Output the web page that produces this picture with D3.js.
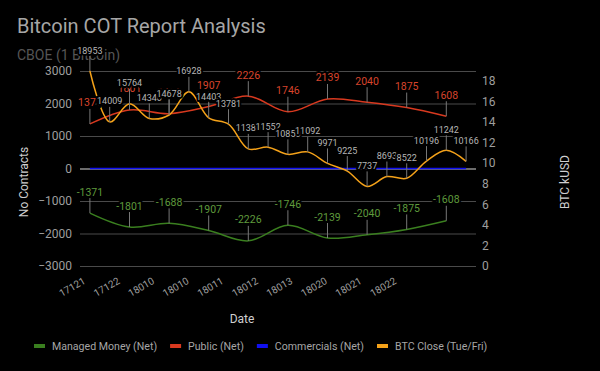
<!DOCTYPE html>
<html>
<head>
<meta charset="utf-8">
<script src="https://cdn.jsdelivr.net/npm/d3@7/dist/d3.min.js"></script>
<style>
  html, body { margin: 0; padding: 0; background: #000; }
  svg { display: block; font-family: Roboto, "Noto Sans", sans-serif; }
</style>
</head>
<body>
<svg id="chart" width="600" height="371"></svg>
<script>
// ---------- data ----------
const dates = ["171219","171222","171226","171229","180102","180105","180109","180112","180116","180119",
               "180123","180126","180130","180202","180206","180209","180213","180216","180220","180223"];
const btcClose = [18953,14009,15764,14340,14678,16928,14403,13781,11380,11552,
                  10850,11092,9971,9225,7737,8693,8522,10196,11242,10166];
const reportDates = ["171219","171226","180102","180109","180116","180123","180130","180206","180213","180220"];
const managedMoney = [-1371,-1801,-1688,-1907,-2226,-1746,-2139,-2040,-1875,-1608];
const publicNet = [1371,1801,1688,1907,2226,1746,2139,2040,1875,1608];
const commercials = [0,0,0,0,0,0,0,0,0,0,0,0,0,0,0,0,0,0,0,0];
const xTickLabels = ["17121","17122","18010","18010","18011","18012","18013","18020","18021","18022"];
const leftTicks = [-3000,-2000,-1000,0,1000,2000,3000];
const rightTicks = [0,2,4,6,8,10,12,14,16,18];
const seriesNames = ["Managed Money (Net)","Public (Net)","Commercials (Net)","BTC Close (Tue/Fri)"];
const seriesColors = ["#3a7f1f","#d8391f","#1010f0","#f5a219"];

// ---------- layout ----------
const svg = d3.select("#chart");
const plot = {left: 80, right: 476, top: 71, bottom: 266};

const x = d3.scalePoint().domain(dates).range([plot.left, plot.right]).padding(0.5);
const yL = d3.scaleLinear().domain([-3000, 3000]).range([plot.bottom, plot.top]);
const yR = d3.scaleLinear().domain([0, d3.max(btcClose) / 1000]).range([plot.bottom, plot.top]);
const xLab = d3.scalePoint().domain(d3.range(xTickLabels.length)).range([86, 397]);

svg.append("rect").attr("width", 600).attr("height", 371).attr("fill", "#000");

// title
svg.append("text").attr("x", 17).attr("y", 33).attr("fill", "#a6a6a6")
  .style("font-size", "20px").text("Bitcoin COT Report Analysis");
svg.append("text").attr("x", 17).attr("y", 60).attr("fill", "#555")
  .style("font-size", "14px").text("CBOE (1 Bitcoin)");

// grid (left axis)
const gridAxis = d3.axisLeft(yL).tickValues(leftTicks).tickSize(-(plot.right - plot.left)).tickFormat("");
const g = svg.append("g").attr("transform", `translate(${plot.left},0)`).call(gridAxis);
g.select(".domain").remove();
g.selectAll("line").attr("stroke", d => d === 0 ? "#d8d8d8" : "#4a4a4a").attr("stroke-width", 1);

// left tick labels
const la = svg.append("g").attr("transform", `translate(${plot.left - 8},0)`)
  .call(d3.axisLeft(yL).tickValues(leftTicks).tickFormat(d3.format("d")).tickSize(0).tickPadding(0));
la.select(".domain").remove();
la.selectAll("text").attr("fill", "#9e9e9e").style("font-size", "12px").style("font-family", "Roboto");

// right tick labels
const ra = svg.append("g").attr("transform", `translate(${plot.right + 6},0)`)
  .call(d3.axisRight(yR).tickValues(rightTicks).tickFormat(d3.format("d")).tickSize(0).tickPadding(0));
ra.select(".domain").remove();
ra.selectAll("text").attr("fill", "#9e9e9e").style("font-size", "12px").style("font-family", "Roboto");

// x tick labels
xTickLabels.forEach((t, i) => {
  svg.append("text")
    .attr("transform", `translate(${xLab(i)},283) rotate(-30)`)
    .attr("text-anchor", "end").attr("fill", "#9e9e9e")
    .style("font-size", "10px").text(t);
});

// axis titles
svg.append("text").attr("transform", "translate(28,182) rotate(-90)")
  .attr("text-anchor", "middle").attr("fill", "#cfcfcf").style("font-size", "12px").text("No Contracts");
svg.append("text").attr("transform", "translate(569,182) rotate(-90)")
  .attr("text-anchor", "middle").attr("fill", "#cfcfcf").style("font-size", "12px").text("BTC kUSD");
svg.append("text").attr("x", 242).attr("y", 323)
  .attr("text-anchor", "middle").attr("fill", "#cfcfcf").style("font-size", "12px").text("Date");

// lines
const curve = d3.curveCatmullRom.alpha(0.5);
svg.append("clipPath").attr("id", "plotclip").append("rect")
  .attr("x", plot.left).attr("y", plot.top - 1).attr("width", plot.right - plot.left).attr("height", plot.bottom - plot.top + 2);
const lines = svg.append("g").attr("clip-path", "url(#plotclip)");

const lineL = d3.line().x(d => x(d[0])).y(d => yL(d[1])).curve(curve);
const lineR = d3.line().x(d => x(d[0])).y(d => yR(d[1] / 1000)).curve(curve);

const mmData = reportDates.map((d, i) => [d, managedMoney[i]]);
const pubData = reportDates.map((d, i) => [d, publicNet[i]]);
const comData = dates.map((d, i) => [d, commercials[i]]);
const btcData = dates.map((d, i) => [d, btcClose[i]]);

lines.append("path").attr("d", lineL(mmData)).attr("fill", "none").attr("stroke", seriesColors[0]).attr("stroke-width", 1.5);
lines.append("path").attr("d", lineL(pubData)).attr("fill", "none").attr("stroke", seriesColors[1]).attr("stroke-width", 1.5);
lines.append("path").attr("d", d3.line().x(d => x(d[0])).y(d => yL(d[1]))(comData)).attr("fill", "none").attr("stroke", seriesColors[2]).attr("stroke-width", 1.5);
lines.append("path").attr("d", lineR(btcData)).attr("fill", "none").attr("stroke", seriesColors[3]).attr("stroke-width", 1.5);

// annotations
function annotate(data, yf, color, size, label) {
  const ga = svg.append("g");
  data.forEach(d => {
    const px = x(d[0]), py = yf(d[1]);
    ga.append("line").attr("x1", px).attr("x2", px).attr("y1", py).attr("y2", py - 15)
      .attr("stroke", "#777").attr("stroke-width", 1);
  });
  data.forEach(d => {
    const px = x(d[0]), py = yf(d[1]);
    ga.append("text").attr("x", px).attr("y", py - 17.5).attr("text-anchor", "middle")
      .attr("fill", color).attr("stroke", "#000").attr("stroke-width", 4)
      .attr("paint-order", "stroke").attr("stroke-linejoin", "round")
      .style("font-size", size + "px").text(label(d[1]));
  });
}
annotate(pubData, yL, "#d8442c", 10.5, v => v);
annotate(mmData, yL, "#5f9a3c", 10.5, v => v);
annotate(btcData, v => yR(v / 1000), "#b5b5b5", 9, v => v);

// legend
let lx = 34;
seriesNames.forEach((name, i) => {
  svg.append("rect").attr("x", lx).attr("y", 344).attr("width", 11).attr("height", 4).attr("fill", seriesColors[i]);
  const t = svg.append("text").attr("x", lx + 18).attr("y", 350).attr("fill", "#a6a6a6")
    .style("font-size", "10.6px").text(name);
  lx += 18 + t.node().getComputedTextLength() + 13;
});
</script>
</body>
</html>
